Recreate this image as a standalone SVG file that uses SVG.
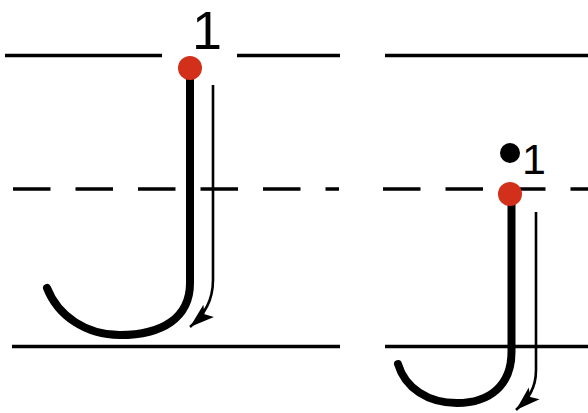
<svg xmlns="http://www.w3.org/2000/svg" width="588" height="413" viewBox="0 0 588 413">
<style>
.guide{stroke:#000;stroke-width:3.5;fill:none}
.dash{stroke-dasharray:37.5 25}
.stroke{stroke:#000;stroke-width:8;fill:none;stroke-linecap:round}
.trace{stroke:#000;stroke-width:2.6;fill:none;marker-end:url(#ah)}
.start{fill:#d3301b}
.num{font-family:"Liberation Sans",Arial,sans-serif;fill:#000;text-anchor:middle}
</style>
<defs>
<marker id="ah" markerUnits="userSpaceOnUse" markerWidth="30" markerHeight="30" refX="0" refY="0" viewBox="-24 -10 28 20" orient="auto" overflow="visible">
<path d="M0,0 L-23,-7.5 L-18,0 L-23,7.5 Z" fill="#000"/>
</marker>
</defs>
<g id="guides">
<line class="guide" x1="5" y1="55.5" x2="162" y2="55.5"/>
<line class="guide" x1="237" y1="55.5" x2="340" y2="55.5"/>
<line class="guide dash" x1="13" y1="189" x2="339" y2="189"/>
<line class="guide" x1="12" y1="346.5" x2="340" y2="346.5"/>
<line class="guide" x1="385" y1="55.5" x2="588" y2="55.5"/>
<line class="guide dash" x1="383" y1="189" x2="588" y2="189"/>
<line class="guide" x1="385" y1="346.5" x2="588" y2="346.5"/>
</g>
<g id="letter-J">
<path class="stroke" d="M190,68 L190,283 C190,318 162,335 120,335 C86,335 58,316 47,288"/>
<path class="trace" d="M213,85 V280 C213,300 205,314 190,327"/>
<circle class="start" cx="190" cy="68" r="12"/>
<text class="num" x="207" y="49" font-size="54">1</text>
</g>
<g id="letter-j">
<path class="stroke" d="M511.5,194 L511.5,352 C511.5,385 490,403 457,403 C428,403 405,388 398,364"/>
<path class="trace" d="M536,212 V370 C536,389 528,399 516,410"/>
<circle class="start" cx="510" cy="194" r="12"/>
<circle cx="510" cy="153" r="10" fill="#000"/>
<text class="num" x="534" y="174" font-size="43">1</text>
</g>
</svg>
